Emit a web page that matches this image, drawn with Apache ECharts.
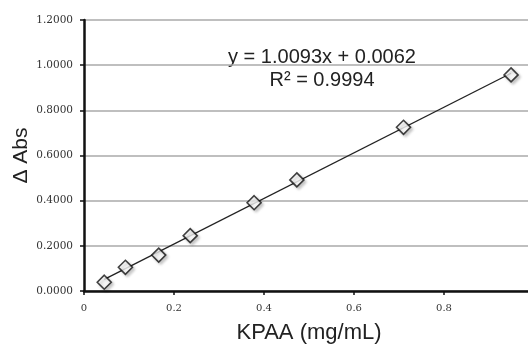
<!DOCTYPE html>
<html>
<head>
<meta charset="utf-8">
<script src="https://cdn.jsdelivr.net/npm/echarts@6/dist/echarts.min.js"></script>
<style>
  html, body { margin: 0; padding: 0; background: #fff; }
  #chart { width: 528px; height: 345px; }
</style>
</head>
<body>
<div id="chart"></div>
<script>
// KPAA concentration (mg/mL) vs delta absorbance
const concentration = [0.045, 0.092, 0.166, 0.236, 0.378, 0.473, 0.710, 0.949];
const deltaAbs = [0.039, 0.105, 0.159, 0.245, 0.391, 0.492, 0.725, 0.957];
const slope = 1.0093;
const intercept = 0.0062;
const rSquared = 0.9994;

const points = concentration.map((x, i) => [x, deltaAbs[i]]);
const xMin = Math.min(...concentration), xMax = Math.max(...concentration);
const trend = [[xMin, slope * xMin + intercept], [xMax, slope * xMax + intercept]];

const chart = echarts.init(document.getElementById("chart"));

const option = {
  backgroundColor: "#fff",
  animation: false,
  grid: { left: 84, right: -6, top: 20, bottom: 54, containLabel: false, outerBoundsMode: "none" },
  xAxis: {
    type: "value",
    min: 0,
    max: 1,
    interval: 0.2,
    name: "KPAA (mg/mL)",
    nameLocation: "middle",
    nameGap: 31,
    nameTextStyle: { fontFamily: "Liberation Sans", fontSize: 22, color: "#222" },
    axisLine: { show: true, onZero: false, lineStyle: { color: "#111", width: 2.5 } },
    axisTick: { show: true, length: 4, lineStyle: { color: "#111", width: 1.5 } },
    axisLabel: {
      fontFamily: "DejaVu Serif", fontSize: 10, color: "#333", margin: 12,
      formatter: v => (v === 0 ? "0" : v >= 1 ? "" : v.toFixed(1))
    },
    splitLine: { show: false }
  },
  yAxis: {
    type: "value",
    min: 0,
    max: 1.2,
    interval: 0.2,
    name: "\u0394 Abs",
    nameLocation: "middle",
    nameGap: 52,
    nameMoveOverlap: false,
    nameRotate: 90,
    nameTextStyle: { fontFamily: "Liberation Sans", fontSize: 21, color: "#222" },
    axisLine: { show: true, lineStyle: { color: "#111", width: 2.5 } },
    axisTick: { show: true, length: 4, lineStyle: { color: "#111", width: 1.5 } },
    axisLabel: {
      fontFamily: "DejaVu Serif", fontSize: 10.5, color: "#333", margin: 11,
      formatter: v => v.toFixed(4)
    },
    splitLine: { show: true, lineStyle: { color: "#aaa", width: 1.5 } }
  },
  graphic: [
    {
      type: "text", x: 322, y: 57,
      style: {
        text: "y = " + slope.toFixed(4) + "x + " + intercept.toFixed(4),
        font: "20px 'Liberation Sans'", fill: "#222",
        align: "center", verticalAlign: "middle"
      }
    },
    {
      type: "text", x: 322, y: 80,
      style: {
        text: "R\u00b2 = " + rSquared.toFixed(4),
        font: "20px 'Liberation Sans'", fill: "#222",
        align: "center", verticalAlign: "middle"
      }
    }
  ],
  series: [
    {
      type: "line",
      data: trend,
      symbol: "none",
      lineStyle: { color: "#222", width: 1.3 },
      z: 2
    },
    {
      type: "scatter",
      data: points,
      symbol: "diamond",
      symbolSize: [14, 14],
      itemStyle: {
        color: "#fff",
        borderColor: "#111",
        borderWidth: 1.6,
        shadowColor: "rgba(0,0,0,0.25)",
        shadowBlur: 3,
        shadowOffsetX: 2,
        shadowOffsetY: 2
      },
      z: 3
    }
  ]
};

chart.setOption(option);
</script>
</body>
</html>
